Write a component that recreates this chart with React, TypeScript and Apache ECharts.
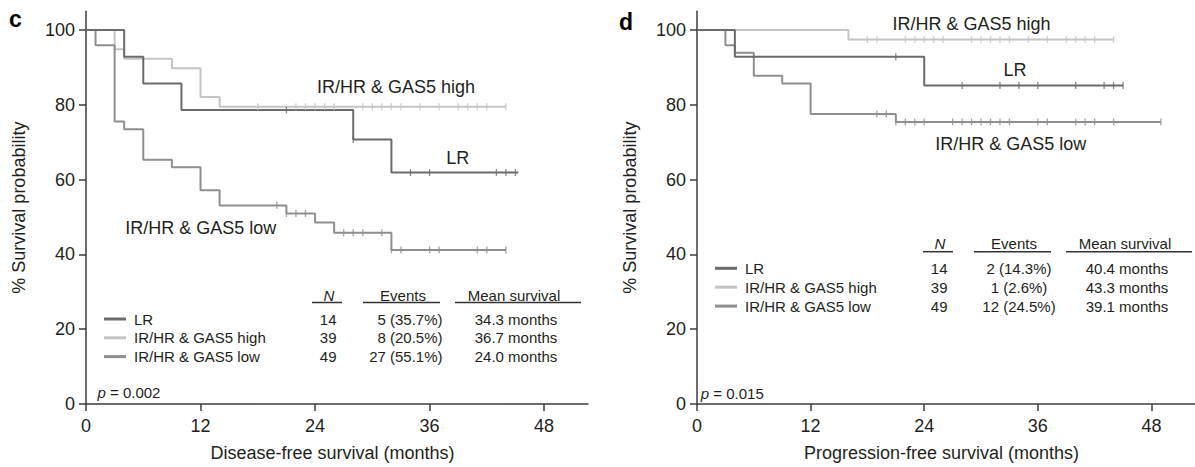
import React, { useEffect, useRef } from "react";
import * as echarts from "echarts";

// ---------- data ----------
const groups = ["LR", "IR/HR & GAS5 high", "IR/HR & GAS5 low"];
const groupColors = ["#6b6b6b", "#c4c4c4", "#8f8f8f"];

const xTicks = [0, 12, 24, 36, 48];
const yTicks = [0, 20, 40, 60, 80, 100];

// Panel c: disease-free survival, steps [month, % survival]
const dfsLR = [[0, 100], [4, 92.86], [6, 85.71], [10, 78.57], [28, 70.71], [32, 61.87], [45.3, 61.87]];
const dfsHigh = [[0, 100], [3, 94.87], [4, 92.31], [9, 89.74], [12, 82.05], [14, 79.49], [44, 79.49]];
const dfsLow = [[0, 100], [1, 95.92], [3, 75.51], [4, 73.47], [6, 65.31], [9, 63.27], [12, 57.14], [14, 53.06], [21, 50.94], [24, 48.5], [26, 45.8], [32, 41.2], [44, 41.2]];
const dfsLRCensor = [21, 28, 34, 36, 43, 44, 45];
const dfsHighCensor = [18, 22, 23, 24, 25, 26, 29, 30, 31, 32, 33, 35, 37, 39, 40, 41, 42, 44];
const dfsLowCensor = [20, 21, 22, 23, 27, 28, 29, 31, 32, 33, 36, 37, 41, 42, 44];
const dfsN = [14, 39, 49];
const dfsEvents = ["5 (35.7%)", "8 (20.5%)", "27 (55.1%)"];
const dfsMean = ["34.3 months", "36.7 months", "24.0 months"];
const dfsP = "0.002";

// Panel d: progression-free survival
const pfsLR = [[0, 100], [4, 92.86], [24, 85.12], [45, 85.12]];
const pfsHigh = [[0, 100], [16, 97.44], [44, 97.44]];
const pfsLow = [[0, 100], [3, 95.92], [4, 93.88], [6, 87.76], [9, 85.71], [12, 77.55], [21, 75.4], [49, 75.4]];
const pfsLRCensor = [21, 28, 32, 34, 36, 40, 43, 44, 45];
const pfsHighCensor = [18, 19, 22, 23, 24, 25, 26, 29, 30, 31, 32, 33, 35, 37, 39, 40, 41, 42, 44];
const pfsLowCensor = [19, 20, 21, 22, 23, 24, 27, 28, 29, 30, 31, 32, 33, 36, 37, 40, 41, 42, 44, 49];
const pfsN = [14, 39, 49];
const pfsEvents = ["2 (14.3%)", "1 (2.6%)", "12 (24.5%)"];
const pfsMean = ["40.4 months", "43.3 months", "39.1 months"];
const pfsP = "0.015";

// ---------- styling / layout ----------
const FONT = "'Liberation Sans', Arial, Helvetica, sans-serif";
const TEXT = "#231f20";
const AXIS = "#3d3d3d";
const GRID_TOP = 11.25;
const GRID_H = 393.75;
const GRID_W = 502;
const X_MAX = 52.6;
const Y_MAX = 105;

function valueAt(curve: number[][], t: number) {
  let v = curve[0][1];
  for (const [x, y] of curve) if (x <= t) v = y;
  return v;
}

const panels = [
  {
    letter: "c",
    letterPos: [9, 19],
    left: 86,
    curves: [dfsLR, dfsHigh, dfsLow],
    censors: [dfsLRCensor, dfsHighCensor, dfsLowCensor],
    n: dfsN,
    events: dfsEvents,
    mean: dfsMean,
    p: dfsP,
    pPos: [97.5, 392.7],
    xName: "Disease-free survival (months)",
    labelPos: [[457.7, 158.3], [396, 87.3], [200.8, 228.3]],
    headerY: 295,
    ulY: 302.5,
    rowY: 319,
    rowGap: 18.8,
    eventsRight: true,
  },
  {
    letter: "d",
    letterPos: [619, 22],
    left: 697,
    curves: [pfsLR, pfsHigh, pfsLow],
    censors: [pfsLRCensor, pfsHighCensor, pfsLowCensor],
    n: pfsN,
    events: pfsEvents,
    mean: pfsMean,
    p: pfsP,
    pPos: [700.8, 393.3],
    xName: "Progression-free survival (months)",
    labelPos: [[1015, 70], [971.5, 24], [1010.8, 144]],
    headerY: 243.3,
    ulY: 251.7,
    rowY: 268.3,
    rowGap: 18.9,
    eventsRight: false,
  },
];

function txt(text: string, x: number, y: number, align: string, size: number, extra: any = {}) {
  return {
    type: "text",
    silent: true,
    style: {
      text,
      x,
      y,
      align,
      textAlign: align,
      verticalAlign: "middle",
      textVerticalAlign: "middle",
      fontSize: size,
      fontFamily: FONT,
      fill: TEXT,
      ...extra,
    },
  };
}

function hline(x1: number, x2: number, y: number, color: string, w: number) {
  return {
    type: "line",
    silent: true,
    shape: { x1, y1: y, x2, y2: y },
    style: { stroke: color, lineWidth: w },
  };
}

function buildOption() {
  const series: any[] = [];
  const graphic: any[] = [];

  panels.forEach((p, pi) => {
    p.curves.forEach((curve, gi) => {
      series.push({
        type: "line",
        xAxisIndex: pi,
        yAxisIndex: pi,
        step: "end",
        data: curve,
        showSymbol: false,
        symbol: "none",
        lineStyle: { color: groupColors[gi], width: 2 },
        z: 2 + (gi === 0 ? 1 : 0),
        silent: true,
      });
      series.push({
        type: "scatter",
        xAxisIndex: pi,
        yAxisIndex: pi,
        data: p.censors[gi].map((t) => [t, valueAt(curve, t)]),
        symbol: "rect",
        symbolSize: [1.3, 7],
        itemStyle: { color: groupColors[gi] },
        z: 4,
        silent: true,
      });
    });

    const ax = p.left;
    // panel letter
    graphic.push(txt(p.letter, p.letterPos[0], p.letterPos[1], "left", 23, { fontWeight: "bold", fill: "#000" }));
    // curve labels
    groups.forEach((g, gi) => {
      graphic.push(txt(g, p.labelPos[gi][0], p.labelPos[gi][1], "center", 18));
    });
    // table header
    graphic.push(txt("N", ax + 243, p.headerY, "center", 15, { fontStyle: "italic" }));
    graphic.push(txt("Events", ax + 317, p.headerY, "center", 15));
    graphic.push(txt("Mean survival", ax + 428, p.headerY, "center", 15));
    graphic.push(hline(ax + 226, ax + 256, p.ulY, "#333", 1.5));
    graphic.push(hline(ax + 277, ax + 354, p.ulY, "#333", 1.5));
    graphic.push(hline(ax + 369, ax + 495, p.ulY, "#333", 1.5));
    // rows
    groups.forEach((g, gi) => {
      const y = p.rowY + gi * p.rowGap;
      graphic.push(hline(ax + 18, ax + 40, y, groupColors[gi], 3));
      graphic.push(txt(g, ax + 48, y, "left", 15));
      graphic.push(txt(String(p.n[gi]), ax + 250.5, y, "right", 15));
      if (p.eventsRight) graphic.push(txt(p.events[gi], ax + 356.5, y, "right", 15));
      else graphic.push(txt(p.events[gi], ax + 322, y, "center", 15));
      graphic.push(txt(p.mean[gi], ax + 430, y, "center", 15));
    });
    // p value
    graphic.push({
      type: "text",
      silent: true,
      style: {
        text: "{i|p} = " + p.p,
        x: p.pPos[0],
        y: p.pPos[1],
        align: "left",
        textAlign: "left",
        verticalAlign: "middle",
        textVerticalAlign: "middle",
        fontSize: 15,
        fontFamily: FONT,
        fill: TEXT,
        rich: { i: { fontStyle: "italic", fontSize: 15, fontFamily: FONT, fill: TEXT } },
      },
    });
  });

  const axisLineStyle = { color: AXIS, width: 1.5 };

  return {
    animation: false,
    backgroundColor: "#ffffff",
    grid: panels.map((p) => ({ left: p.left, top: GRID_TOP, width: GRID_W, height: GRID_H, containLabel: false })),
    xAxis: panels.map((p, i) => ({
      type: "value",
      gridIndex: i,
      min: 0,
      max: X_MAX,
      interval: 12,
      axisLine: { show: true, onZero: false, lineStyle: axisLineStyle },
      axisTick: { show: true, length: 7, inside: false, customValues: xTicks, lineStyle: axisLineStyle },
      axisLabel: { customValues: xTicks, margin: 13, fontSize: 18, color: TEXT, fontFamily: FONT },
      splitLine: { show: false },
      name: p.xName,
      nameLocation: "middle",
      nameGap: 40,
      nameTextStyle: { fontSize: 18, color: TEXT, fontFamily: FONT, padding: [0, 9, 0, 0] },
    })),
    yAxis: panels.map((p, i) => ({
      type: "value",
      gridIndex: i,
      min: 0,
      max: Y_MAX,
      interval: 20,
      axisLine: { show: true, onZero: false, lineStyle: axisLineStyle },
      axisTick: { show: true, length: 7, inside: false, customValues: yTicks, lineStyle: axisLineStyle },
      axisLabel: { customValues: yTicks, margin: 11, fontSize: 18, color: TEXT, fontFamily: FONT },
      splitLine: { show: false },
      name: "% Survival probability",
      nameLocation: "middle",
      nameGap: 58,
      nameTextStyle: { fontSize: 18, color: TEXT, fontFamily: FONT },
    })),
    series,
    graphic,
  };
}

export default function App() {
  const ref = useRef<HTMLDivElement>(null);
  useEffect(() => {
    if (!ref.current) return;
    const chart = echarts.init(ref.current, undefined, { renderer: "svg" });
    chart.setOption(buildOption() as any);
    return () => chart.dispose();
  }, []);
  return (
    <div
      ref={ref}
      style={{ position: "absolute", left: 0, top: 0, width: 1195, height: 467, background: "#fff" }}
    />
  );
}
